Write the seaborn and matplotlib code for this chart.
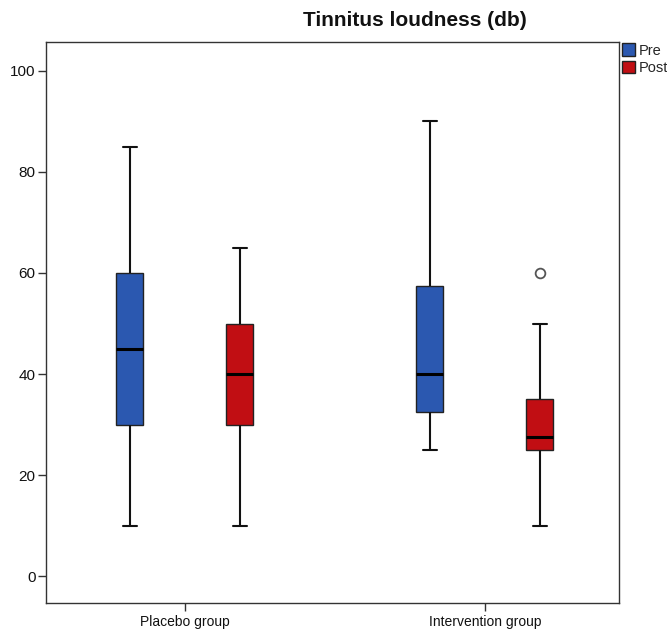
import matplotlib
matplotlib.use("Agg")
import matplotlib.pyplot as plt
import seaborn as sns
import pandas as pd

groups = ["Placebo group", "Intervention group"]
times = ["Pre", "Post"]
placebo_pre = [10, 30, 45, 60, 85]
placebo_post = [10, 30, 40, 50, 65]
intervention_pre = [25, 32.5, 40, 57.5, 90]
intervention_post = [10, 25, 25, 27.5, 27.5, 35, 35, 50, 60]
y_ticks = [0, 20, 40, 60, 80, 100]
colors = {"Pre": "#2B58B0", "Post": "#C10E13"}

rows = []
for g, t, vals in [("Placebo group", "Pre", placebo_pre),
                   ("Placebo group", "Post", placebo_post),
                   ("Intervention group", "Pre", intervention_pre),
                   ("Intervention group", "Post", intervention_post)]:
    for v in vals:
        rows.append({"group": g, "time": t, "value": v})
df = pd.DataFrame(rows)

sns.set_style("white")
plt.rcParams["font.family"] = ["Liberation Sans", "DejaVu Sans"]

fig = plt.figure(figsize=(6.67, 6.35), dpi=100)
ax = fig.add_axes([46 / 667, 1 - 603 / 635, 573 / 667, (603 - 42) / 635])

sns.boxplot(data=df, x="group", y="value", hue="time", order=groups,
            hue_order=times, palette=colors, saturation=1, width=0.733,
            gap=0.755, linewidth=1.0, linecolor="#222222", whis=1.5,
            medianprops=dict(color="black", linewidth=2.2),
            whiskerprops=dict(color="#111111", linewidth=1.5),
            capprops=dict(color="#111111", linewidth=1.5),
            flierprops=dict(marker="o", markerfacecolor="white",
                            markeredgecolor="#555555", markersize=7,
                            markeredgewidth=1.3),
            ax=ax)

ax.set_xlim(-0.463, 1.447)
ax.set_ylim(-5.3, 105.7)
ax.set_yticks(y_ticks)
ax.set_xlabel("")
ax.set_ylabel("")
ax.tick_params(axis="both", direction="out", length=5.5, width=1,
               color="#333333", labelcolor="#111111", left=True,
               bottom=True, pad=2)
ax.tick_params(axis="y", labelsize=11)
ax.tick_params(axis="x", labelsize=10, pad=3)
for s in ax.spines.values():
    s.set_color("#333333")
    s.set_linewidth(1.0)
    s.set_visible(True)

handles, labels = ax.get_legend_handles_labels()
ax.legend(handles, labels, loc="upper left", bbox_to_anchor=(1.003, 1.0),
          frameon=False, fontsize=10.5, handlelength=0.9, handleheight=0.9,
          handletextpad=0.25, labelspacing=0.25, borderaxespad=0.1,
          borderpad=0.0)

fig.text(415 / 667, 1 - 21 / 635, "Tinnitus loudness (db)", ha="center",
         va="center", fontsize=15, fontweight="bold", color="#111111")

fig.savefig("out.png", dpi=100)
